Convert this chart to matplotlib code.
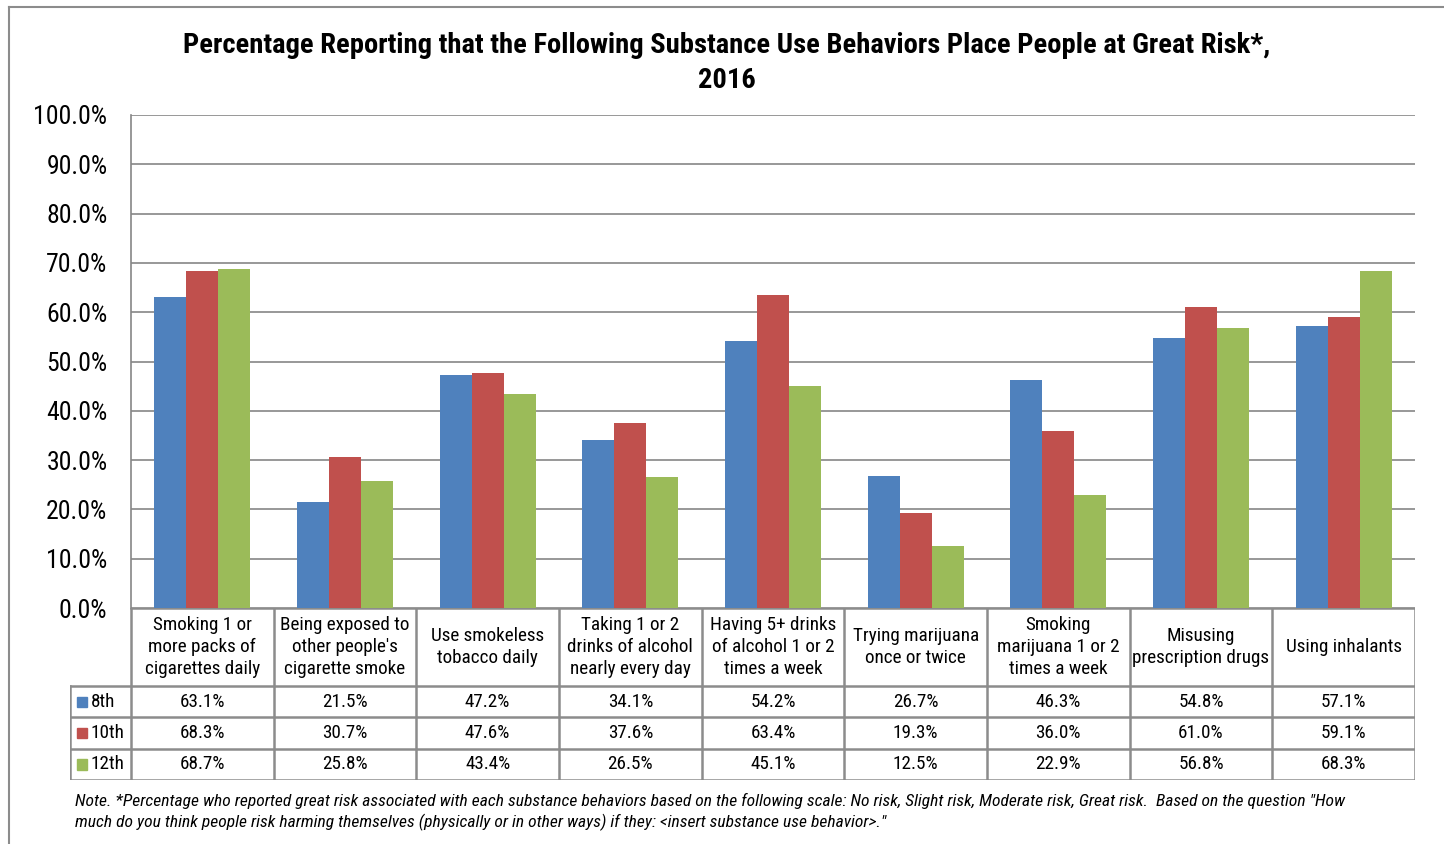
import numpy as np
import matplotlib
matplotlib.use("Agg")
import matplotlib.pyplot as plt
from matplotlib.patches import Rectangle
from matplotlib.lines import Line2D

plt.rcParams['font.family'] = ['Roboto Condensed', 'DejaVu Sans']

behaviors = [
    "Smoking 1 or\nmore packs of\ncigarettes daily",
    "Being exposed to\nother people's\ncigarette smoke",
    "Use smokeless\ntobacco daily",
    "Taking 1 or 2\ndrinks of alcohol\nnearly every day",
    "Having 5+ drinks\nof alcohol 1 or 2\ntimes a week",
    "Trying marijuana\nonce or twice",
    "Smoking\nmarijuana 1 or 2\ntimes a week",
    "Misusing\nprescription drugs",
    "Using inhalants",
]
grades = ["8th", "10th", "12th"]
grade8 = [63.1, 21.5, 47.2, 34.1, 54.2, 26.7, 46.3, 54.8, 57.1]
grade10 = [68.3, 30.7, 47.6, 37.6, 63.4, 19.3, 36.0, 61.0, 59.1]
grade12 = [68.7, 25.8, 43.4, 26.5, 45.1, 12.5, 22.9, 56.8, 68.3]
colors = ["#4F81BD", "#C0504D", "#9BBB59"]

title = ("Percentage Reporting that the Following Substance Use Behaviors Place People at Great Risk*,\n"
         "2016")
note = ("Note. *Percentage who reported great risk associated with each substance behaviors based on the following "
        "scale: No risk, Slight risk, Moderate risk, Great risk.  Based on the question \"How\n"
        "much do you think people risk harming themselves (physically or in other ways) if they: "
        "<insert substance use behavior>.\"")

W, H = 1444, 844
grid_c = "#868686"
border_c = "#8C8C8C"


def box(x0, y0, x1, y1):
    # pixel box (top-left origin) -> figure fraction rect
    return [x0 / W, 1 - y1 / H, (x1 - x0) / W, (y1 - y0) / H]


fig = plt.figure(figsize=(W / 100, H / 100), dpi=100)

# outer frame (left and top edges visible)
fig.add_artist(Line2D([9 / W, 9 / W], [0, 1 - 7 / H], color=border_c, lw=1.5))
fig.add_artist(Line2D([9 / W, 1], [1 - 7 / H, 1 - 7 / H], color=border_c, lw=1.5))

fig.text(727 / W, 1 - 63 / H, title, ha="center", va="center", fontsize=20.5,
         fontweight="bold", linespacing=1.4)

# bar chart
ax = fig.add_axes(box(131, 115, 1415, 608))
n = len(behaviors)
x = np.arange(n)
bw = 0.224
for i, (vals, c) in enumerate(zip([grade8, grade10, grade12], colors)):
    ax.bar(x + (i - 1) * bw, vals, width=bw, color=c, zorder=3)
ax.set_xlim(-0.5, n - 0.5)
ax.set_ylim(0, 100)
ax.set_yticks(np.arange(0, 101, 10))
ax.set_yticklabels([f"{v:.1f}%" for v in np.arange(0, 101, 10)], fontsize=18.5)
ax.set_xticks([])
ax.yaxis.grid(True, color=grid_c, lw=1.2, zorder=0)
ax.tick_params(axis="y", length=0, pad=17)
for s in ["top", "right", "bottom"]:
    ax.spines[s].set_visible(False)
ax.spines["left"].set_color(grid_c)
ax.spines["left"].set_linewidth(1.2)

# data table below the plot
lab_w = 61 / 142.67
tab = fig.add_axes(box(70, 608, 1415, 780))
tab.set_xlim(-0.5 - lab_w, n - 0.5)
tab.set_ylim(5.5, 0)
tab.axis("off")
hdr = 2.5
lc = dict(color=border_c, lw=1.8, solid_capstyle="projecting")
# horizontal lines
tab.plot([-0.5, n - 0.5], [0, 0], **lc)
for r in range(4):
    tab.plot([-0.5 - lab_w, n - 0.5], [hdr + r, hdr + r], **lc)
# vertical lines
tab.plot([-0.5 - lab_w, -0.5 - lab_w], [hdr, hdr + 3], **lc)
for j in range(n + 1):
    tab.plot([j - 0.5, j - 0.5], [0, hdr + 3], **lc)

for j, b in enumerate(behaviors):
    tab.text(j, hdr / 2, b, ha="center", va="center", fontsize=13.8, linespacing=1.3)

for r, (g, vals, c) in enumerate(zip(grades, [grade8, grade10, grade12], colors)):
    yc = hdr + r + 0.5
    tab.add_patch(Rectangle((-0.5 - lab_w + 0.05, yc - 0.17), 0.072, 0.34,
                            color=c, transform=tab.transData))
    tab.text(-0.5 - lab_w + 0.145, yc, g, ha="left", va="center", fontsize=13.8)
    for j, v in enumerate(vals):
        tab.text(j, yc, f"{v:.1f}%", ha="center", va="center", fontsize=13.8)

fig.text(75 / W, 1 - 812 / H, note, ha="left", va="center", fontsize=12.6,
         style="italic", linespacing=1.3)

fig.savefig("out.png", dpi=100)
